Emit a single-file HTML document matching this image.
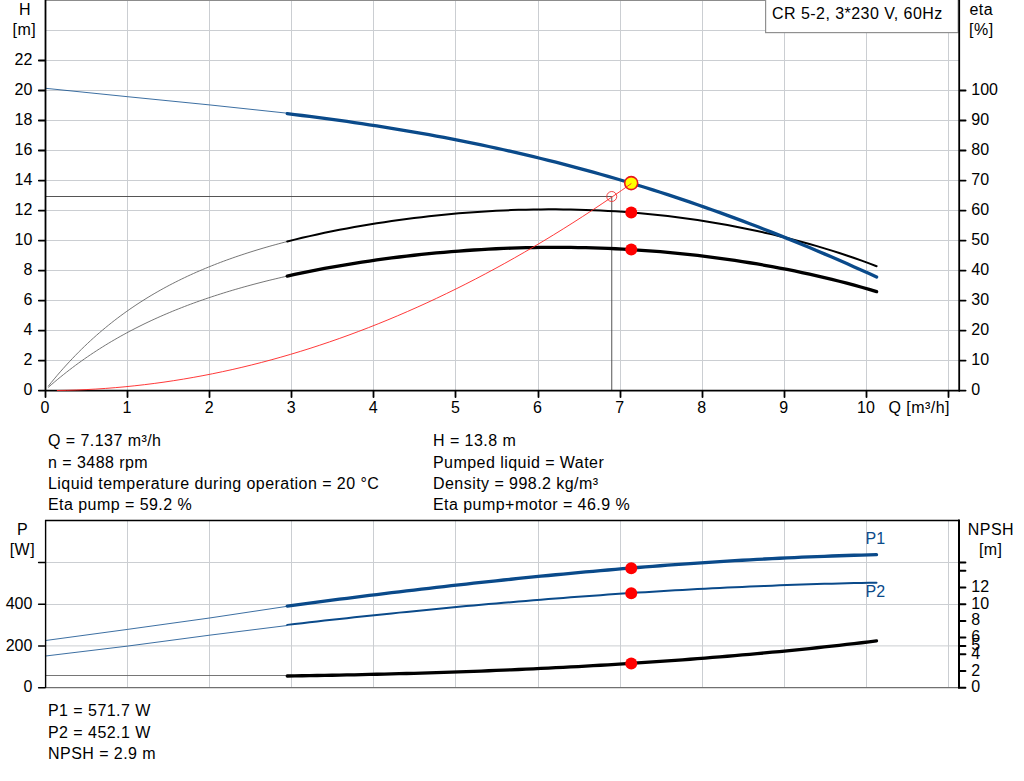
<!DOCTYPE html>
<html lang="en"><head><meta charset="utf-8"><title>CR 5-2 pump curve</title>
<style>html,body{margin:0;padding:0;background:#fff;overflow:hidden}svg{display:block}</style>
</head><body>
<svg width="1024" height="781" viewBox="0 0 1024 781" font-family="'Liberation Sans', Arial, sans-serif" font-size="16px" letter-spacing="0.45" fill="#000">
<rect width="1024" height="781" fill="#fff"/>
<path d="M127.5,0V390.6 M209.5,0V390.6 M291.5,0V390.6 M373.5,0V390.6 M455.5,0V390.6 M538.5,0V390.6 M620.5,0V390.6 M702.5,0V390.6 M784.5,0V390.6 M866.5,0V390.6 M948.5,0V390.6 M45,360.5H959 M45,330.5H959 M45,300.5H959 M45,270.5H959 M45,240.5H959 M45,210.5H959 M45,180.5H959 M45,150.5H959 M45,120.5H959 M45,90.5H959 M45,60.5H959 M45,30.5H959" stroke="#cbced2" stroke-width="1" fill="none"/>
<path d="M45,0.4H959" stroke="#8c8c8c" stroke-width="1.2" fill="none"/>
<path d="M45,196.5H611.75V390" stroke="#555" stroke-width="1" fill="none"/>
<rect x="765.6" y="-3" width="192.6" height="35.6" fill="#fff" stroke="#909090" stroke-width="1.2"/>
<text x="772.00" y="19.20">CR 5-2, 3*230 V, 60Hz</text>
<path d="M48.20,386.31 L51.23,382.56 L54.25,378.89 L57.28,375.30 L60.30,371.79 L63.33,368.36 L66.36,365.00 L69.38,361.72 L72.41,358.50 L75.43,355.36 L78.46,352.29 L81.49,349.28 L84.51,346.34 L87.54,343.46 L90.56,340.65 L93.59,337.90 L96.62,335.20 L99.64,332.57 L102.67,329.99 L105.69,327.47 L108.72,325.00 L111.74,322.59 L114.77,320.22 L117.80,317.91 L120.82,315.65 L123.85,313.44 L126.87,311.27 L129.90,309.15 L132.93,307.08 L135.95,305.05 L138.98,303.06 L142.00,301.11 L145.03,299.21 L148.06,297.34 L151.08,295.51 L154.11,293.72 L157.13,291.97 L160.16,290.26 L163.19,288.58 L166.21,286.93 L169.24,285.32 L172.26,283.74 L175.29,282.19 L178.32,280.67 L181.34,279.19 L184.37,277.73 L187.39,276.30 L190.42,274.90 L193.45,273.53 L196.47,272.18 L199.50,270.86 L202.52,269.57 L205.55,268.30 L208.58,267.05 L211.60,265.83 L214.63,264.63 L217.65,263.46 L220.68,262.30 L223.71,261.17 L226.73,260.06 L229.76,258.97 L232.78,257.90 L235.81,256.84 L238.83,255.81 L241.86,254.80 L244.89,253.80 L247.91,252.82 L250.94,251.86 L253.96,250.91 L256.99,249.98 L260.02,249.07 L263.04,248.17 L266.07,247.29 L269.09,246.43 L272.12,245.57 L275.15,244.74 L278.17,243.91 L281.20,243.10 L284.22,242.30 L287.25,241.52" stroke="#666" stroke-width="0.9" fill="none"/>
<path d="M48.20,387.43 L51.23,384.79 L54.25,382.19 L57.28,379.65 L60.30,377.16 L63.33,374.71 L66.36,372.32 L69.38,369.96 L72.41,367.65 L75.43,365.39 L78.46,363.17 L81.49,360.99 L84.51,358.85 L87.54,356.76 L90.56,354.70 L93.59,352.68 L96.62,350.70 L99.64,348.76 L102.67,346.85 L105.69,344.98 L108.72,343.14 L111.74,341.34 L114.77,339.57 L117.80,337.83 L120.82,336.12 L123.85,334.45 L126.87,332.80 L129.90,331.19 L132.93,329.60 L135.95,328.05 L138.98,326.52 L142.00,325.02 L145.03,323.54 L148.06,322.10 L151.08,320.67 L154.11,319.28 L157.13,317.90 L160.16,316.55 L163.19,315.23 L166.21,313.93 L169.24,312.65 L172.26,311.39 L175.29,310.15 L178.32,308.94 L181.34,307.74 L184.37,306.57 L187.39,305.41 L190.42,304.28 L193.45,303.16 L196.47,302.06 L199.50,300.98 L202.52,299.92 L205.55,298.87 L208.58,297.84 L211.60,296.83 L214.63,295.84 L217.65,294.86 L220.68,293.90 L223.71,292.95 L226.73,292.01 L229.76,291.10 L232.78,290.19 L235.81,289.30 L238.83,288.43 L241.86,287.56 L244.89,286.71 L247.91,285.88 L250.94,285.05 L253.96,284.24 L256.99,283.45 L260.02,282.66 L263.04,281.89 L266.07,281.12 L269.09,280.37 L272.12,279.63 L275.15,278.91 L278.17,278.19 L281.20,277.48 L284.22,276.79 L287.25,276.10" stroke="#666" stroke-width="0.9" fill="none"/>
<path d="M287.25,241.52 L294.71,239.64 L302.17,237.84 L309.63,236.11 L317.09,234.44 L324.55,232.84 L332.01,231.31 L339.47,229.83 L346.93,228.41 L354.39,227.05 L361.85,225.74 L369.31,224.49 L376.77,223.29 L384.23,222.14 L391.69,221.04 L399.15,219.99 L406.61,218.99 L414.07,218.04 L421.53,217.14 L428.99,216.28 L436.45,215.48 L443.91,214.72 L451.37,214.01 L458.83,213.35 L466.29,212.74 L473.75,212.18 L481.21,211.66 L488.67,211.20 L496.13,210.79 L503.59,210.43 L511.05,210.12 L518.51,209.86 L525.97,209.65 L533.43,209.50 L540.89,209.39 L548.35,209.34 L555.81,209.35 L563.27,209.41 L570.73,209.52 L578.19,209.69 L585.66,209.91 L593.12,210.19 L600.58,210.53 L608.04,210.92 L615.50,211.37 L622.96,211.87 L630.42,212.43 L637.88,213.05 L645.34,213.73 L652.80,214.46 L660.26,215.26 L667.72,216.11 L675.18,217.02 L682.64,217.99 L690.10,219.02 L697.56,220.10 L705.02,221.25 L712.48,222.46 L719.94,223.73 L727.40,225.06 L734.86,226.46 L742.32,227.91 L749.78,229.43 L757.24,231.02 L764.70,232.66 L772.16,234.38 L779.62,236.16 L787.08,238.01 L794.54,239.93 L802.00,241.92 L809.46,243.99 L816.92,246.12 L824.38,248.34 L831.84,250.64 L839.30,253.01 L846.76,255.47 L854.22,258.02 L861.68,260.66 L869.14,263.40 L876.60,266.23" stroke="#000" stroke-width="2" fill="none" stroke-linecap="round"/>
<path d="M287.25,276.10 L294.71,274.45 L302.17,272.87 L309.63,271.34 L317.09,269.87 L324.55,268.45 L332.01,267.09 L339.47,265.77 L346.93,264.51 L354.39,263.29 L361.85,262.13 L369.31,261.01 L376.77,259.94 L384.23,258.91 L391.69,257.93 L399.15,256.99 L406.61,256.10 L414.07,255.25 L421.53,254.45 L428.99,253.68 L436.45,252.97 L443.91,252.29 L451.37,251.66 L458.83,251.07 L466.29,250.52 L473.75,250.02 L481.21,249.56 L488.67,249.14 L496.13,248.76 L503.59,248.43 L511.05,248.14 L518.51,247.90 L525.97,247.70 L533.43,247.54 L540.89,247.43 L548.35,247.36 L555.81,247.34 L563.27,247.36 L570.73,247.42 L578.19,247.53 L585.66,247.69 L593.12,247.89 L600.58,248.13 L608.04,248.42 L615.50,248.76 L622.96,249.14 L630.42,249.57 L637.88,250.04 L645.34,250.56 L652.80,251.12 L660.26,251.73 L667.72,252.39 L675.18,253.09 L682.64,253.84 L690.10,254.64 L697.56,255.48 L705.02,256.37 L712.48,257.31 L719.94,258.30 L727.40,259.34 L734.86,260.42 L742.32,261.56 L749.78,262.75 L757.24,263.98 L764.70,265.27 L772.16,266.61 L779.62,268.01 L787.08,269.46 L794.54,270.96 L802.00,272.53 L809.46,274.15 L816.92,275.83 L824.38,277.57 L831.84,279.38 L839.30,281.25 L846.76,283.19 L854.22,285.20 L861.68,287.28 L869.14,289.44 L876.60,291.67" stroke="#000" stroke-width="3.3" fill="none" stroke-linecap="round"/>
<path d="M45.6,88.3 L127.5,96.7 L209.5,104.9 L287.25,113.2" stroke="#0a4a8a" stroke-width="0.8" fill="none"/>
<path d="M287.25,113.64 L294.71,114.56 L302.17,115.49 L309.63,116.44 L317.09,117.41 L324.55,118.40 L332.01,119.41 L339.47,120.44 L346.93,121.49 L354.39,122.57 L361.85,123.67 L369.31,124.80 L376.77,125.95 L384.23,127.12 L391.69,128.32 L399.15,129.55 L406.61,130.80 L414.07,132.08 L421.53,133.39 L428.99,134.73 L436.45,136.09 L443.91,137.49 L451.37,138.91 L458.83,140.37 L466.29,141.85 L473.75,143.37 L481.21,144.92 L488.67,146.50 L496.13,148.11 L503.59,149.76 L511.05,151.43 L518.51,153.14 L525.97,154.89 L533.43,156.67 L540.89,158.48 L548.35,160.33 L555.81,162.21 L563.27,164.12 L570.73,166.07 L578.19,168.06 L585.66,170.08 L593.12,172.14 L600.58,174.23 L608.04,176.36 L615.50,178.52 L622.96,180.72 L630.42,182.96 L637.88,185.23 L645.34,187.54 L652.80,189.89 L660.26,192.27 L667.72,194.69 L675.18,197.15 L682.64,199.64 L690.10,202.17 L697.56,204.74 L705.02,207.34 L712.48,209.98 L719.94,212.66 L727.40,215.37 L734.86,218.12 L742.32,220.90 L749.78,223.72 L757.24,226.58 L764.70,229.47 L772.16,232.40 L779.62,235.36 L787.08,238.36 L794.54,241.39 L802.00,244.46 L809.46,247.56 L816.92,250.70 L824.38,253.87 L831.84,257.07 L839.30,260.31 L846.76,263.58 L854.22,266.89 L861.68,270.22 L869.14,273.59 L876.60,276.99" stroke="#0a4a8a" stroke-width="3.3" fill="none" stroke-linecap="round"/>
<path d="M45.5,0V391.1 M959.2,0V391.1 M38.8,390.6H959.5 M38.8,360.59H45 M38.8,330.58H45 M38.8,300.57H45 M38.8,270.56H45 M38.8,240.55H45 M38.8,210.54H45 M38.8,180.53H45 M38.8,150.52H45 M38.8,120.51H45 M38.8,90.50H45 M38.8,60.49H45 M960,390.60H965.6 M960,360.59H965.6 M960,330.58H965.6 M960,300.57H965.6 M960,270.56H965.6 M960,240.55H965.6 M960,210.54H965.6 M960,180.53H965.6 M960,150.52H965.6 M960,120.51H965.6 M960,90.50H965.6 M45.5,390.6V397.0 M127.5,390.6V397.0 M209.5,390.6V397.0 M291.5,390.6V397.0 M373.5,390.6V397.0 M455.5,390.6V397.0 M538.5,390.6V397.0 M620.5,390.6V397.0 M702.5,390.6V397.0 M784.5,390.6V397.0 M866.5,390.6V397.0 M948.5,390.6V397.0" stroke="#000" stroke-width="1.8" fill="none" stroke-linecap="round"/>
<circle cx="611.75" cy="196.5" r="5" fill="none" stroke="#e33" stroke-width="0.9"/>
<circle cx="631.25" cy="212.5" r="6" fill="#f00"/>
<circle cx="631.25" cy="249.5" r="6" fill="#f00"/>
<circle cx="631.2" cy="183.1" r="6.5" fill="#ff0" stroke="#e8141c" stroke-width="1.6"/>
<path d="M56.89,390.52 L66.63,390.33 L76.37,390.02 L86.10,389.60 L95.84,389.07 L105.58,388.42 L115.31,387.65 L125.05,386.77 L134.79,385.78 L144.52,384.67 L154.26,383.45 L164.00,382.12 L173.73,380.67 L183.47,379.10 L193.21,377.42 L202.94,375.63 L212.68,373.72 L222.41,371.70 L232.15,369.57 L241.89,367.32 L251.62,364.95 L261.36,362.47 L271.10,359.88 L280.83,357.17 L290.57,354.35 L300.31,351.41 L310.04,348.36 L319.78,345.20 L329.52,341.92 L339.25,338.52 L348.99,335.01 L358.73,331.39 L368.46,327.65 L378.20,323.80 L387.94,319.84 L397.67,315.76 L407.41,311.56 L417.14,307.25 L426.88,302.83 L436.62,298.29 L446.35,293.64 L456.09,288.88 L465.83,283.99 L475.56,279.00 L485.30,273.89 L495.04,268.67 L504.77,263.33 L514.51,257.88 L524.25,252.31 L533.98,246.63 L543.72,240.83 L553.46,234.92 L563.19,228.90 L572.93,222.76 L582.67,216.51 L592.40,210.14 L602.14,203.66 L611.87,197.07 L621.61,190.36 L631.35,183.53" stroke="#f22" stroke-width="0.9" fill="none"/>
<text x="25.00" y="14.70" text-anchor="middle">H</text>
<text x="24.40" y="34.70" text-anchor="middle">[m]</text>
<text x="32.40" y="394.80" text-anchor="end" letter-spacing="0">0</text>
<text x="32.40" y="364.79" text-anchor="end" letter-spacing="0">2</text>
<text x="32.40" y="334.78" text-anchor="end" letter-spacing="0">4</text>
<text x="32.40" y="304.77" text-anchor="end" letter-spacing="0">6</text>
<text x="32.40" y="274.76" text-anchor="end" letter-spacing="0">8</text>
<text x="32.40" y="244.75" text-anchor="end" letter-spacing="0">10</text>
<text x="32.40" y="214.74" text-anchor="end" letter-spacing="0">12</text>
<text x="32.40" y="184.73" text-anchor="end" letter-spacing="0">14</text>
<text x="32.40" y="154.72" text-anchor="end" letter-spacing="0">16</text>
<text x="32.40" y="124.71" text-anchor="end" letter-spacing="0">18</text>
<text x="32.40" y="94.70" text-anchor="end" letter-spacing="0">20</text>
<text x="32.40" y="64.69" text-anchor="end" letter-spacing="0">22</text>
<text x="971.30" y="394.90" letter-spacing="0">0</text>
<text x="971.30" y="364.89" letter-spacing="0">10</text>
<text x="971.30" y="334.88" letter-spacing="0">20</text>
<text x="971.30" y="304.87" letter-spacing="0">30</text>
<text x="971.30" y="274.86" letter-spacing="0">40</text>
<text x="971.30" y="244.85" letter-spacing="0">50</text>
<text x="971.30" y="214.84" letter-spacing="0">60</text>
<text x="971.30" y="184.83" letter-spacing="0">70</text>
<text x="971.30" y="154.82" letter-spacing="0">80</text>
<text x="971.30" y="124.81" letter-spacing="0">90</text>
<text x="971.30" y="94.80" letter-spacing="0">100</text>
<text x="981.30" y="14.70" text-anchor="middle">eta</text>
<text x="981.30" y="34.80" text-anchor="middle">[%]</text>
<text x="44.90" y="412.90" text-anchor="middle" letter-spacing="0">0</text>
<text x="127.00" y="412.90" text-anchor="middle" letter-spacing="0">1</text>
<text x="209.10" y="412.90" text-anchor="middle" letter-spacing="0">2</text>
<text x="291.20" y="412.90" text-anchor="middle" letter-spacing="0">3</text>
<text x="373.30" y="412.90" text-anchor="middle" letter-spacing="0">4</text>
<text x="455.40" y="412.90" text-anchor="middle" letter-spacing="0">5</text>
<text x="537.50" y="412.90" text-anchor="middle" letter-spacing="0">6</text>
<text x="619.60" y="412.90" text-anchor="middle" letter-spacing="0">7</text>
<text x="701.70" y="412.90" text-anchor="middle" letter-spacing="0">8</text>
<text x="783.80" y="412.90" text-anchor="middle" letter-spacing="0">9</text>
<text x="865.90" y="412.90" text-anchor="middle" letter-spacing="0">10</text>
<text x="888.50" y="412.90">Q [m³/h]</text>
<text x="48.00" y="446.30">Q = 7.137 m³/h</text>
<text x="433.00" y="446.30">H = 13.8 m</text>
<text x="48.00" y="467.55">n = 3488 rpm</text>
<text x="433.00" y="467.55">Pumped liquid = Water</text>
<text x="48.00" y="488.80">Liquid temperature during operation = 20 °C</text>
<text x="433.00" y="488.80">Density = 998.2 kg/m³</text>
<text x="48.00" y="510.05">Eta pump = 59.2 %</text>
<text x="433.00" y="510.05">Eta pump+motor = 46.9 %</text>
<path d="M127.5,520.5V687.7 M209.5,520.5V687.7 M291.5,520.5V687.7 M373.5,520.5V687.7 M455.5,520.5V687.7 M538.5,520.5V687.7 M620.5,520.5V687.7 M702.5,520.5V687.7 M784.5,520.5V687.7 M866.5,520.5V687.7 M948.5,520.5V687.7 M45,562.5H959 M45,604.5H959 M45,645.9H959" stroke="#cbced2" stroke-width="1" fill="none"/>
<path d="M45,687.7H959" stroke="#707070" stroke-width="1.2" fill="none"/>
<path d="M45.6,675.5H287.25" stroke="#666" stroke-width="0.9" fill="none"/>
<path d="M287.25,675.99 L294.71,675.88 L302.17,675.77 L309.63,675.64 L317.09,675.51 L324.54,675.38 L332.00,675.24 L339.46,675.10 L346.92,674.94 L354.38,674.79 L361.84,674.62 L369.30,674.45 L376.76,674.27 L384.22,674.09 L391.67,673.90 L399.13,673.70 L406.59,673.49 L414.05,673.28 L421.51,673.06 L428.97,672.84 L436.43,672.60 L443.89,672.36 L451.34,672.11 L458.80,671.85 L466.26,671.58 L473.72,671.31 L481.18,671.03 L488.64,670.74 L496.10,670.44 L503.56,670.13 L511.02,669.81 L518.47,669.48 L525.93,669.15 L533.39,668.80 L540.85,668.45 L548.31,668.09 L555.77,667.72 L563.23,667.33 L570.69,666.94 L578.15,666.54 L585.60,666.13 L593.06,665.71 L600.52,665.27 L607.98,664.83 L615.44,664.38 L622.90,663.92 L630.36,663.44 L637.82,662.96 L645.28,662.46 L652.73,661.95 L660.19,661.43 L667.65,660.90 L675.11,660.36 L682.57,659.81 L690.03,659.25 L697.49,658.67 L704.95,658.08 L712.41,657.48 L719.86,656.87 L727.32,656.24 L734.78,655.61 L742.24,654.96 L749.70,654.30 L757.16,653.62 L764.62,652.93 L772.08,652.23 L779.53,651.52 L786.99,650.79 L794.45,650.05 L801.91,649.29 L809.37,648.53 L816.83,647.74 L824.29,646.95 L831.75,646.14 L839.21,645.32 L846.66,644.48 L854.12,643.63 L861.58,642.76 L869.04,641.88 L876.50,640.98" stroke="#000" stroke-width="3.3" fill="none" stroke-linecap="round"/>
<path d="M45.6,640.5 L127.5,629.4 L209.5,618 L287.25,606.3" stroke="#0a4a8a" stroke-width="0.8" fill="none"/>
<path d="M45.6,656 L127.5,646.1 L209.5,635.2 L287.25,625.5" stroke="#0a4a8a" stroke-width="0.8" fill="none"/>
<path d="M287.25,606.06 L294.71,605.07 L302.17,604.08 L309.63,603.10 L317.09,602.12 L324.54,601.15 L332.00,600.18 L339.46,599.23 L346.92,598.28 L354.38,597.33 L361.84,596.39 L369.30,595.46 L376.76,594.54 L384.22,593.62 L391.67,592.71 L399.13,591.81 L406.59,590.91 L414.05,590.03 L421.51,589.15 L428.97,588.28 L436.43,587.41 L443.89,586.56 L451.34,585.71 L458.80,584.87 L466.26,584.04 L473.72,583.22 L481.18,582.40 L488.64,581.60 L496.10,580.80 L503.56,580.01 L511.02,579.24 L518.47,578.47 L525.93,577.71 L533.39,576.96 L540.85,576.22 L548.31,575.49 L555.77,574.76 L563.23,574.05 L570.69,573.35 L578.15,572.66 L585.60,571.98 L593.06,571.31 L600.52,570.65 L607.98,570.00 L615.44,569.36 L622.90,568.73 L630.36,568.12 L637.82,567.51 L645.28,566.92 L652.73,566.33 L660.19,565.76 L667.65,565.20 L675.11,564.65 L682.57,564.11 L690.03,563.59 L697.49,563.08 L704.95,562.57 L712.41,562.09 L719.86,561.61 L727.32,561.15 L734.78,560.69 L742.24,560.26 L749.70,559.83 L757.16,559.42 L764.62,559.02 L772.08,558.63 L779.53,558.26 L786.99,557.90 L794.45,557.55 L801.91,557.22 L809.37,556.90 L816.83,556.59 L824.29,556.30 L831.75,556.02 L839.21,555.76 L846.66,555.51 L854.12,555.27 L861.58,555.05 L869.04,554.85 L876.50,554.66" stroke="#0a4a8a" stroke-width="3.3" fill="none" stroke-linecap="round"/>
<path d="M287.25,624.87 L294.71,624.01 L302.17,623.15 L309.63,622.30 L317.09,621.45 L324.54,620.61 L332.00,619.78 L339.46,618.96 L346.92,618.14 L354.38,617.33 L361.84,616.53 L369.30,615.74 L376.76,614.95 L384.22,614.17 L391.67,613.40 L399.13,612.63 L406.59,611.88 L414.05,611.13 L421.51,610.39 L428.97,609.65 L436.43,608.93 L443.89,608.21 L451.34,607.50 L458.80,606.80 L466.26,606.11 L473.72,605.43 L481.18,604.75 L488.64,604.08 L496.10,603.43 L503.56,602.78 L511.02,602.13 L518.47,601.50 L525.93,600.88 L533.39,600.26 L540.85,599.66 L548.31,599.06 L555.77,598.47 L563.23,597.89 L570.69,597.32 L578.15,596.76 L585.60,596.21 L593.06,595.67 L600.52,595.13 L607.98,594.61 L615.44,594.10 L622.90,593.59 L630.36,593.10 L637.82,592.61 L645.28,592.14 L652.73,591.67 L660.19,591.22 L667.65,590.77 L675.11,590.34 L682.57,589.91 L690.03,589.50 L697.49,589.10 L704.95,588.70 L712.41,588.32 L719.86,587.94 L727.32,587.58 L734.78,587.23 L742.24,586.89 L749.70,586.56 L757.16,586.24 L764.62,585.93 L772.08,585.63 L779.53,585.34 L786.99,585.06 L794.45,584.80 L801.91,584.54 L809.37,584.30 L816.83,584.07 L824.29,583.85 L831.75,583.64 L839.21,583.44 L846.66,583.26 L854.12,583.08 L861.58,582.92 L869.04,582.77 L876.50,582.63" stroke="#0a4a8a" stroke-width="2" fill="none" stroke-linecap="round"/>
<path d="M45.6,687.7V520.5H959" stroke="#000" stroke-width="1.4" fill="none"/>
<path d="M38.6,687.70H45 M38.6,645.96H45 M38.6,604.22H45 M38.6,562.48H45" stroke="#000" stroke-width="1.5" fill="none" stroke-linecap="round"/>
<path d="M959,520.2V688.0 M960,687.70H965.4 M960,671.00H965.4 M960,654.30H965.4 M960,645.95H965.4 M960,637.60H965.4 M960,620.90H965.4 M960,604.20H965.4 M960,587.50H965.4 M960,570.80H965.4 M960,562.45H965.4" stroke="#000" stroke-width="2" fill="none" stroke-linecap="round"/>
<circle cx="631.25" cy="568.3" r="6" fill="#f00"/>
<circle cx="631.25" cy="593.3" r="6" fill="#f00"/>
<circle cx="631.25" cy="663.4" r="6" fill="#f00"/>
<text x="22.60" y="535.30" text-anchor="middle">P</text>
<text x="22.40" y="555.40" text-anchor="middle">[W]</text>
<text x="32.40" y="692.40" text-anchor="end" letter-spacing="0">0</text>
<text x="32.40" y="650.66" text-anchor="end" letter-spacing="0">200</text>
<text x="32.40" y="608.92" text-anchor="end" letter-spacing="0">400</text>
<text x="990.90" y="534.90" text-anchor="middle">NPSH</text>
<text x="990.70" y="554.90" text-anchor="middle">[m]</text>
<text x="971.30" y="650.45" letter-spacing="0">5</text>
<text x="971.30" y="692.20" letter-spacing="0">0</text>
<text x="971.30" y="675.50" letter-spacing="0">2</text>
<text x="971.30" y="658.80" letter-spacing="0">4</text>
<text x="971.30" y="642.10" letter-spacing="0">6</text>
<text x="971.30" y="625.40" letter-spacing="0">8</text>
<text x="971.30" y="608.70" letter-spacing="0">10</text>
<text x="971.30" y="592.00" letter-spacing="0">12</text>
<text x="865.60" y="543.50" letter-spacing="0" fill="#0a4a8a">P1</text>
<text x="865.60" y="596.60" letter-spacing="0" fill="#0a4a8a">P2</text>
<text x="48.00" y="716.20">P1 = 571.7 W</text>
<text x="48.00" y="737.60">P2 = 452.1 W</text>
<text x="48.00" y="759.00">NPSH = 2.9 m</text>
</svg>
</body></html>
